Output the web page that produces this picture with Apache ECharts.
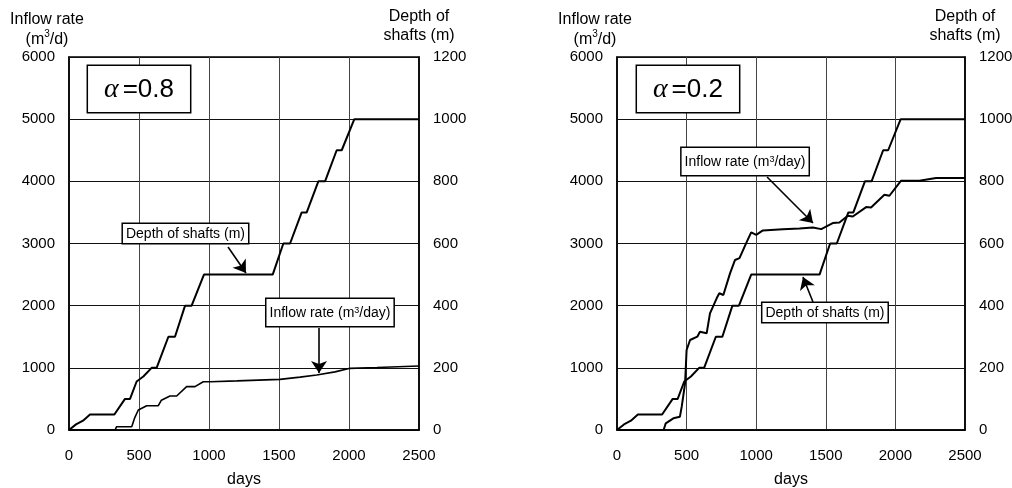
<!DOCTYPE html>
<html>
<head>
<meta charset="utf-8">
<script src="https://cdn.jsdelivr.net/npm/echarts@6/dist/echarts.min.js"></script>
<style>
  html, body { margin: 0; padding: 0; background: #fff; }
  #chart { width: 1012px; height: 488px; }
</style>
</head>
<body>
<div id="chart"></div>
<script>
// depth of shafts (m), same schedule in both cases
const depthDays = [0, 50, 100, 150, 324, 400, 436, 483, 531, 590, 626, 710, 757, 829, 876, 964, 1455, 1531, 1579, 1662, 1698, 1781, 1829, 1912, 1948, 2038, 2500];
const depthM = [0, 18, 30, 50, 50, 100, 100, 156, 172, 200, 200, 300, 300, 400, 400, 500, 500, 600, 600, 700, 700, 800, 800, 900, 900, 1000, 1000];

// inflow rate (m3/d), alpha = 0.8
const inflowDays08 = [0, 329, 340, 448, 470, 495, 555, 638, 660, 721, 769, 840, 900, 959, 1010, 1200, 1507, 1650, 1769, 1900, 2007, 2200, 2500];
const inflow08 = [0, 0, 53, 53, 200, 322, 391, 391, 480, 547, 547, 697, 697, 777, 777, 790, 815, 850, 885, 935, 992, 1005, 1029];

// inflow rate (m3/d), alpha = 0.2
const inflowDays02 = [0, 335, 350, 405, 452, 465, 489, 500, 525, 577, 596, 644, 668, 716, 735, 764, 812, 848, 880, 928, 964, 1000, 1048, 1191, 1311, 1407, 1467, 1550, 1598, 1658, 1694, 1790, 1825, 1921, 1957, 2041, 2172, 2292, 2500];
const inflow02 = [0, 0, 107, 188, 214, 375, 751, 1287, 1448, 1501, 1581, 1555, 1877, 2118, 2199, 2172, 2520, 2735, 2764, 3006, 3178, 3140, 3210, 3231, 3242, 3258, 3231, 3328, 3339, 3446, 3435, 3586, 3580, 3784, 3768, 4010, 4010, 4053, 4053];

const xTicks = [0, 2500, 500];
const leftTicks = [0, 6000, 1000];
const rightTicks = [0, 1200, 200];

// annotations in data units of each panel (days, inflow axis)
const alphaText = ['0.8', '0.2'];
const alphaPos = [[500, 5485], [510, 5485]];
const depthLabelPos = [[832, 3161], [1494, 1890]];
const depthArrow = [[[1136, 2944], [1264, 2525]], [[1408, 2059], [1336, 2461]]];
const inflowLabelPos = [[1864, 1890], [920, 4319]];
const inflowArrow = [[[1786, 1641], [1786, 917]], [[1078, 4070], [1408, 3330]]];

const FONT = "'Liberation Sans', Arial, sans-serif";
const zip = (a, b) => a.map((v, i) => [v, b[i]]);
const plain = v => String(v);

const grids = [
  { left: 69, top: 57, width: 350, height: 373 },
  { left: 617, top: 57, width: 348, height: 373 }
];

const xAxes = grids.map((g, i) => ({
  type: 'value', gridIndex: i,
  min: xTicks[0], max: xTicks[1], interval: xTicks[2],
  name: 'days', nameLocation: 'middle', nameGap: 42,
  nameTextStyle: { fontFamily: FONT, fontSize: 16, color: '#000' },
  axisLine: { lineStyle: { color: '#000', width: 1.5 } },
  axisTick: { show: false },
  axisLabel: { margin: 18, fontFamily: FONT, fontSize: 15, color: '#000', formatter: plain },
  splitLine: { show: true, lineStyle: { color: '#444', width: 1 } }
}));

const yAxes = [];
grids.forEach((g, i) => {
  yAxes.push({
    type: 'value', gridIndex: i, position: 'left',
    min: leftTicks[0], max: leftTicks[1], interval: leftTicks[2],
    name: 'Inflow rate\n(m{sup|3}/d)', nameLocation: 'end', nameGap: 5,
    nameTextStyle: {
      fontFamily: FONT, fontSize: 16, color: '#000', lineHeight: 20,
      align: 'center', padding: [0, 44, 0, 0],
      rich: { sup: { fontFamily: FONT, fontSize: 10, verticalAlign: 'top', lineHeight: 14 } }
    },
    axisLine: { show: true, lineStyle: { color: '#000', width: 1.5 } },
    axisTick: { show: false },
    axisLabel: { margin: 14, fontFamily: FONT, fontSize: 15, color: '#000', formatter: plain },
    splitLine: { show: true, lineStyle: { color: '#111', width: 1 } }
  });
  yAxes.push({
    type: 'value', gridIndex: i, position: 'right',
    min: rightTicks[0], max: rightTicks[1], interval: rightTicks[2],
    name: 'Depth of\nshafts (m)', nameLocation: 'end', nameGap: 12,
    nameTextStyle: { fontFamily: FONT, fontSize: 16, color: '#000', lineHeight: 19, align: 'center' },
    axisLine: { show: true, lineStyle: { color: '#000', width: 1.5 } },
    axisTick: { show: false },
    axisLabel: { margin: 14, fontFamily: FONT, fontSize: 15, color: '#000', formatter: plain },
    splitLine: { show: false }
  });
});

const boxLabel = {
  show: true, position: 'inside', color: '#000',
  fontFamily: FONT, fontSize: 14,
  backgroundColor: '#fff', borderColor: '#000', borderWidth: 1.5,
  padding: [3, 3, 2, 3],
  rich: { sup: { fontFamily: FONT, fontSize: 9, verticalAlign: 'top', lineHeight: 11 } }
};

const series = [];
const inflowSets = [zip(inflowDays08, inflow08), zip(inflowDays02, inflow02)];
grids.forEach((g, i) => {
  series.push({
    name: 'Depth of shafts', type: 'line',
    xAxisIndex: i, yAxisIndex: i * 2 + 1,
    data: zip(depthDays, depthM),
    showSymbol: false, silent: true, z: 3,
    lineStyle: { color: '#000', width: 2 }
  });
  series.push({
    name: 'Inflow rate', type: 'line',
    xAxisIndex: i, yAxisIndex: i * 2,
    data: inflowSets[i],
    showSymbol: false, silent: true, z: 3,
    lineStyle: { color: '#000', width: i === 0 ? 1.6 : 2 },
    markLine: {
      silent: true, animation: false,
      symbol: ['none', 'arrow'], symbolSize: 12,
      label: { show: false },
      lineStyle: { color: '#000', width: 1.6, type: 'solid' },
      data: [
        [{ coord: depthArrow[i][0] }, { coord: depthArrow[i][1] }],
        [{ coord: inflowArrow[i][0] }, { coord: inflowArrow[i][1] }]
      ]
    },
    markPoint: {
      silent: true, animation: false,
      symbol: 'rect', symbolSize: 0,
      data: [
        {
          coord: alphaPos[i], value: 0,
          label: Object.assign({}, boxLabel, {
            formatter: '{a|α} {b|=' + alphaText[i] + '}',
            padding: [10, 16, 8, 16],
            rich: {
              a: { fontFamily: "'Liberation Serif', serif", fontStyle: 'italic', fontSize: 28 },
              b: { fontFamily: FONT, fontSize: 26 }
            }
          })
        },
        {
          coord: depthLabelPos[i], value: 0,
          label: Object.assign({}, boxLabel, { formatter: 'Depth of shafts (m)' })
        },
        {
          coord: inflowLabelPos[i], value: 0,
          label: Object.assign({}, boxLabel, {
            formatter: 'Inflow rate (m{sup|3}/day)',
            padding: [7, 3, 6, 3]
          })
        }
      ]
    }
  });
});

const chart = echarts.init(document.getElementById('chart'));
chart.setOption({
  animation: false,
  backgroundColor: '#fff',
  grid: grids.map(g => Object.assign({ show: true, borderColor: '#000', borderWidth: 1.5, outerBoundsMode: 'none', containLabel: false }, g)),
  xAxis: xAxes,
  yAxis: yAxes,
  series: series
});
</script>
</body>
</html>
